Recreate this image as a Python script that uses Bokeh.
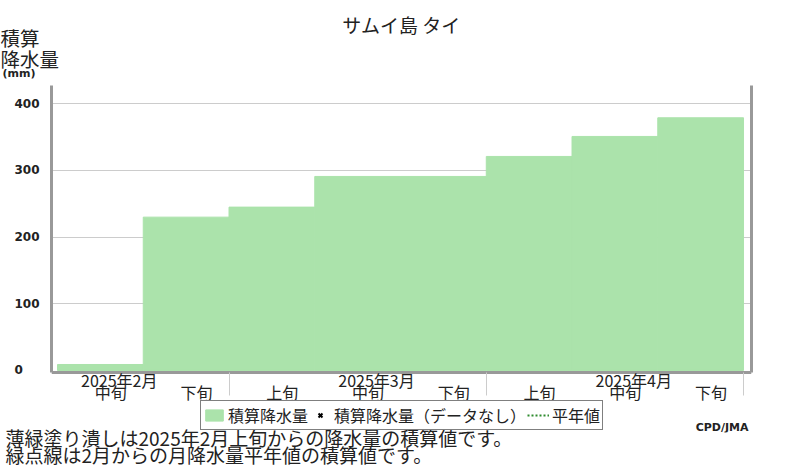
from bokeh.plotting import figure
from bokeh.models import (ColumnDataSource, Legend, LegendItem, LinearAxis,
                          FixedTicker, Range1d, Title, Label)
from bokeh.embed import file_html
from bokeh.resources import INLINE

# ---- data ----
dekads = ["中旬", "下旬", "上旬", "中旬", "下旬", "上旬", "中旬", "下旬"]
months = ["2025年2月", "2025年3月", "2025年4月"]
accum_precip = [9, 230, 245, 291, 291, 321, 351, 379]
y_ticks = [0, 100, 200, 300, 400]

title_text = "サムイ島 タイ"
ytitle_text = "積算\n降水量"
yunit_text = "(mm)"
note1 = "薄緑塗り潰しは2025年2月上旬からの降水量の積算値です。"
note2 = "緑点線は2月からの月降水量平年値の積算値です。"
credit = "CPD/JMA"

JP = "Noto Sans CJK JP"
GREEN = "#abe3ab"
FRAME = "#999999"
TXT = "#222222"

Y_BOTTOM = -3          # bottom line of the chart box
Y_TOP = 427.4
NAN = float("nan")

p = figure(width=800, height=470,
           x_range=Range1d(-0.07, 8.093), y_range=Range1d(-93, Y_TOP),
           output_backend="svg", toolbar_location=None,
           min_border_left=51, min_border_right=49,
           min_border_top=85, min_border_bottom=38)
p.outline_line_color = None

idx = list(range(len(dekads)))
src = ColumnDataSource(dict(x=[i + 0.5 for i in idx], top=accum_precip))
bars = p.vbar(x="x", top="top", bottom=0, width=1.0, source=src,
              fill_color=GREEN, line_color=GREEN, line_width=1)

# legend-only renderers (no plottable values)
nodata = p.scatter(x=[NAN], y=[NAN], marker="x", size=6, line_color="black", line_width=2)
normal = p.line(x=[NAN], y=[NAN], line_color="#2e8b2e", line_width=2, line_dash="2 2")

# grid
p.xgrid.visible = False
p.ygrid.ticker = FixedTicker(ticks=[t for t in y_ticks if t > 0])
p.ygrid.grid_line_color = "#cccccc"

# y axis
ya = p.yaxis[0]
ya.ticker = FixedTicker(ticks=y_ticks)
ya.bounds = (Y_BOTTOM, Y_TOP)
ya.major_label_overrides = {0: "0\u2007\u2007"}
ya.axis_line_color = FRAME
ya.axis_line_width = 3
ya.major_tick_line_color = None
ya.minor_tick_line_color = None
ya.major_tick_out = 0
ya.major_label_standoff = 12
ya.major_label_text_font = "DejaVu Sans"
ya.major_label_text_font_style = "bold"
ya.major_label_text_font_size = "12px"
ya.major_label_text_color = TXT

# x axis A (drawn at the chart bottom): month labels + month boundary ticks
boundaries = [i for i, d in enumerate(dekads) if d == "上旬"] + [len(dekads)]
mid_idx = [i for i, d in enumerate(dekads) if d == "中旬"]
month_pos = [i + 0.72 for i in mid_idx]
xa = p.xaxis[0]
xa.fixed_location = Y_BOTTOM
xa.ticker = FixedTicker(ticks=month_pos, minor_ticks=boundaries)
xa.major_label_overrides = {pos: m for pos, m in zip(month_pos, months)}
xa.axis_line_color = FRAME
xa.axis_line_width = 3
xa.major_tick_line_color = None
xa.major_tick_in = 0
xa.major_tick_out = 0
xa.minor_tick_line_color = "#cccccc"
xa.minor_tick_line_width = 1
xa.minor_tick_in = 0
xa.minor_tick_out = 23
xa.major_label_standoff = -27
xa.major_label_text_font = JP
xa.major_label_text_font_size = "16px"
xa.major_label_text_color = TXT

# x axis B: dekad labels
dek_pos = [i + 0.62 for i in idx]
xb = LinearAxis(fixed_location=Y_BOTTOM,
                ticker=FixedTicker(ticks=dek_pos, minor_ticks=[]),
                major_label_overrides={pos: d for pos, d in zip(dek_pos, dekads)},
                axis_line_color=None, major_tick_line_color=None,
                minor_tick_line_color=None, major_tick_in=0, major_tick_out=0,
                minor_tick_in=0, minor_tick_out=0,
                major_label_standoff=8, major_label_text_font=JP,
                major_label_text_font_size="16px", major_label_text_color=TXT)
p.add_layout(xb, "below")

# right frame line
ra = LinearAxis(ticker=FixedTicker(ticks=[]), bounds=(Y_BOTTOM, Y_TOP),
                axis_line_color=FRAME, axis_line_width=3,
                major_tick_line_color=None, minor_tick_line_color=None,
                major_tick_out=0, minor_tick_out=0, major_label_text_font_size="1px")
p.add_layout(ra, "right")

# legend (inside the lower part of the frame)
legend = Legend(items=[LegendItem(label="積算降水量", renderers=[bars]),
                       LegendItem(label="積算降水量（データなし）", renderers=[nodata]),
                       LegendItem(label="平年値", renderers=[normal])],
                location=(149, 2), orientation="horizontal",
                border_line_color="black", border_line_width=1,
                background_fill_color="white", background_fill_alpha=1,
                label_text_font=JP, label_text_font_size="16px",
                label_text_color=TXT,
                glyph_width=22, glyph_height=14, label_standoff=3,
                spacing=1, padding=2, margin=0)
p.add_layout(legend)

# credit
p.add_layout(Label(x=697, y=5, x_units="screen", y_units="screen", text=credit,
                   text_align="right", text_baseline="middle",
                   text_font="DejaVu Sans", text_font_style="bold",
                   text_font_size="11px", text_color=TXT))

# footnotes below the frame
p.add_layout(Title(text=note1, align="left", offset=-46, vertical_align="middle",
                   standoff=-20, text_font=JP, text_font_style="normal",
                   text_font_size="19px", text_color=TXT), "below")
p.add_layout(Title(text=note2, align="left", offset=-46, vertical_align="middle",
                   standoff=-4, text_font=JP, text_font_style="normal",
                   text_font_size="19px", text_color=TXT), "below")

# above: unit, y title, chart title (nearest the frame first)
p.add_layout(Title(text=yunit_text, align="left", offset=-49, vertical_align="top",
                   standoff=7, text_font="DejaVu Sans", text_font_style="bold",
                   text_font_size="11px", text_color=TXT), "above")
p.add_layout(Title(text=ytitle_text, align="left", offset=-51, vertical_align="top",
                   standoff=-23, text_font=JP, text_font_style="normal",
                   text_font_size="19.5px", text_line_height=0.709,
                   text_color=TXT), "above")
p.add_layout(Title(text=title_text, align="center", vertical_align="top",
                   standoff=-10, text_font=JP, text_font_style="normal",
                   text_font_size="19px", text_color=TXT), "above")

open("out.html", "w").write(file_html(p, INLINE))
